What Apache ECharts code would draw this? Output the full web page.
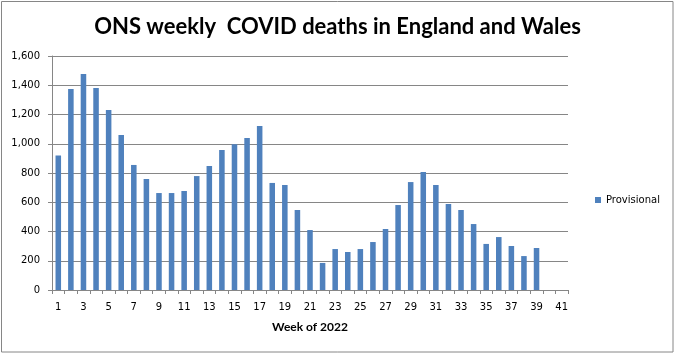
<!DOCTYPE html>
<html>
<head>
<meta charset="utf-8">
<script src="https://cdn.jsdelivr.net/npm/echarts@6/dist/echarts.min.js"></script>
<style>
html,body{margin:0;padding:0;background:#fff;}
#chart{width:675px;height:354px;}
</style>
</head>
<body>
<div id="chart"></div>
<script>
const titleText = 'ONS weekly  COVID deaths in England and Wales';
const xAxisName = 'Week of 2022';
const seriesName = 'Provisional';
const weeks = ['1','2','3','4','5','6','7','8','9','10','11','12','13','14','15','16','17','18','19','20','21','22','23','24','25','26','27','28','29','30','31','32','33','34','35','36','37','38','39','40','41'];
const deaths = [920,1375,1477,1381,1231,1060,855,759,663,663,677,779,848,957,996,1039,1121,732,718,547,410,185,280,260,280,328,417,581,738,807,718,588,547,451,315,362,301,232,287,null,null];
const yTicks = {min: 0, max: 1600, interval: 200};

const chart = echarts.init(document.getElementById('chart'), null, {renderer: 'canvas'});
const axisFont = 'DejaVu Sans';
chart.setOption({
  animation: false,
  backgroundColor: '#ffffff',
  title: {
    text: titleText,
    left: 'center',
    top: 11,
    textStyle: {fontFamily: 'Lato', fontWeight: 'bold', fontSize: 22, color: '#000'}
  },
  legend: {
    data: [seriesName],
    left: 590,
    top: 190,
    icon: 'rect',
    itemWidth: 6,
    itemHeight: 6,
    textStyle: {fontFamily: axisFont, fontSize: 10, color: '#000'}
  },
  graphic: [{
    type: 'rect',
    shape: {x: 1.5, y: 1.5, width: 671.5, height: 350.5},
    style: {fill: 'none', stroke: '#868686', lineWidth: 1},
    silent: true
  }],
  grid: {left: 52, right: 107, top: 56, bottom: 64},
  xAxis: {
    type: 'category',
    data: weeks,
    boundaryGap: true,
    name: xAxisName,
    nameLocation: 'middle',
    nameGap: 31,
    nameTextStyle: {fontFamily: 'Lato', fontWeight: 'bold', fontSize: 12, color: '#000'},
    axisLine: {lineStyle: {color: '#868686', width: 1}},
    axisTick: {show: true, interval: 0, length: 4, inside: false, alignWithLabel: false, lineStyle: {color: '#868686'}},
    axisLabel: {interval: 1, margin: 12, fontFamily: axisFont, fontSize: 10, color: '#000'},
    splitLine: {show: false}
  },
  yAxis: {
    type: 'value',
    min: yTicks.min,
    max: yTicks.max,
    interval: yTicks.interval,
    axisLine: {show: true, lineStyle: {color: '#868686', width: 1}},
    axisTick: {show: true, length: 4, lineStyle: {color: '#868686'}},
    axisLabel: {
      margin: 12,
      fontFamily: axisFont, fontSize: 10, color: '#000',
      formatter: v => v.toLocaleString('en-US')
    },
    splitLine: {show: true, lineStyle: {color: '#868686', width: 1}}
  },
  series: [{
    name: seriesName,
    type: 'bar',
    data: deaths,
    barWidth: '44%',
    itemStyle: {color: '#4F81BD'}
  }]
});
</script>
</body>
</html>
